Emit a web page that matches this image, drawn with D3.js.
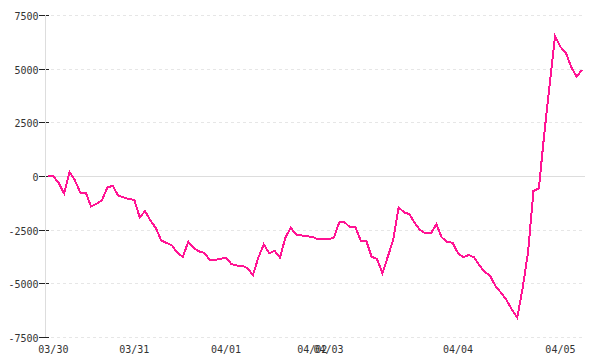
<!DOCTYPE html>
<html>
<head>
<meta charset="utf-8">
<script src="https://cdn.jsdelivr.net/npm/d3@7/dist/d3.min.js"></script>
<style>
  html, body { margin: 0; padding: 0; background: #fff; }
  svg { display: block; }
  text { font-family: "DejaVu Sans Mono", monospace; font-size: 10px; fill: #333; }
</style>
</head>
<body>
<svg id="chart" width="600" height="360"></svg>
<script>
// ---- data ----
const values = [
  0, -10, -330, -820, 190, -210, -780, -780, -1420, -1300,
  -1130, -540, -450, -910, -1000, -1070, -1110, -1920, -1640, -2070,
  -2430, -3010, -3120, -3240, -3580, -3770, -3060, -3350, -3510, -3580,
  -3910, -3910, -3860, -3800, -4100, -4170, -4170, -4300, -4610, -3800,
  -3180, -3600, -3480, -3800, -2880, -2410, -2730, -2770, -2810, -2830,
  -2950, -2950, -2950, -2870, -2160, -2160, -2390, -2390, -3010, -3010,
  -3760, -3870, -4530, -3760, -2980, -1460, -1690, -1780, -2200, -2520,
  -2670, -2670, -2250, -2860, -3070, -3110, -3590, -3790, -3680, -3790,
  -4180, -4470, -4660, -5150, -5440, -5780, -6220, -6600, -5220, -3540,
  -700, -570, 1950, 4250, 6520, 6010, 5750, 5080, 4630, 4940
];
const dayLabels = ["03/30", "03/31", "04/01", "04/02", "04/03", "04/04", "04/05"];
const dayIndex  = [1, 16, 33, 49, 52, 76, 95];
const yTicks = [7500, 5000, 2500, 0, -2500, -5000, -7500];

// ---- layout ----
const svg = d3.select("#chart");
const axisX = 45, plotRight = 585, plotTop = 15, plotBottom = 337;
const lineLeft = 48, lineRight = 582;

const x = d3.scaleLinear().domain([0, values.length - 1]).range([lineLeft, lineRight]);
const y = d3.scaleLinear().domain([-7500, 7500]).range([plotBottom, plotTop]);

// grid lines
svg.append("g").selectAll("line")
  .data(yTicks.filter(d => d !== 0))
  .join("line")
  .attr("x1", axisX).attr("x2", plotRight - 2)
  .attr("y1", d => Math.round(y(d)) + 0.5).attr("y2", d => Math.round(y(d)) + 0.5)
  .attr("stroke", "#e6e6e6").attr("stroke-width", 1)
  .attr("stroke-dasharray", "3,3");

// zero line
svg.append("line")
  .attr("x1", axisX).attr("x2", plotRight)
  .attr("y1", Math.round(y(0)) + 0.5).attr("y2", Math.round(y(0)) + 0.5)
  .attr("stroke", "#dddddd").attr("stroke-width", 1);

// y ticks + labels
const yt = svg.append("g").selectAll("g").data(yTicks).join("g")
  .attr("transform", d => `translate(0,${Math.round(y(d)) + 0.5})`);
yt.append("line").attr("x1", 39).attr("x2", 49).attr("stroke", "#222").attr("stroke-width", 1);
yt.append("text").attr("x", 38.5).attr("dy", 4.5).attr("text-anchor", "end")
  .text(d => d3.format("")(d).replace("\u2212", "-"));

// y axis line
svg.append("line")
  .attr("x1", axisX + 0.5).attr("x2", axisX + 0.5)
  .attr("y1", plotTop).attr("y2", plotBottom)
  .attr("stroke", "#dddddd").attr("stroke-width", 1);

// x labels
svg.append("g").selectAll("text").data(dayLabels).join("text")
  .attr("x", (d, i) => x(dayIndex[i]))
  .attr("y", 353)
  .attr("text-anchor", "middle")
  .text(d => d);

// series line
const line = d3.line().x((d, i) => x(i)).y(d => y(d));
svg.append("path")
  .datum(values)
  .attr("d", line)
  .attr("fill", "none")
  .attr("stroke", "#ff1493")
  .attr("stroke-width", 2)
  .attr("stroke-linejoin", "miter")
  .attr("shape-rendering", "crispEdges");
</script>
</body>
</html>
